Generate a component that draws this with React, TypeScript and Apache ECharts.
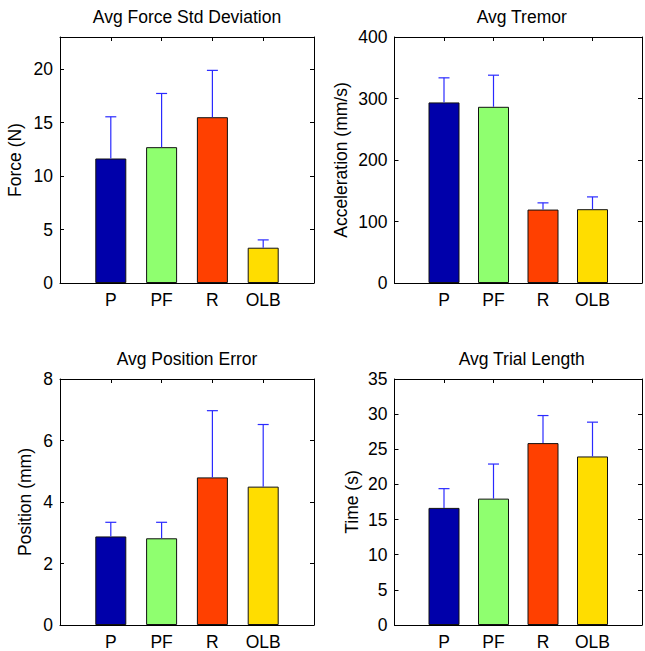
import React, { useEffect, useRef } from 'react';
import * as echarts from 'echarts';

const categories = ['P', 'PF', 'R', 'OLB'];
const barColors = ['#0000AA', '#8FFF6F', '#FF4000', '#FFDD00'];

const titles = ['Avg Force Std Deviation', 'Avg Tremor', 'Avg Position Error', 'Avg Trial Length'];
const yNames = ['Force (N)', 'Acceleration (mm/s)', 'Position (mm)', 'Time (s)'];

const forceMeans = [11.64, 12.7, 15.5, 3.3];
const forceErrs = [3.9, 5.02, 4.38, 0.73];
const tremorMeans = [293.6, 286.5, 119.4, 120];
const tremorErrs = [40, 51.4, 10.9, 20];
const positionMeans = [2.88, 2.82, 4.8, 4.5];
const positionErrs = [0.46, 0.52, 2.17, 2.02];
const timeMeans = [16.66, 17.98, 25.88, 23.98];
const timeErrs = [2.74, 4.92, 3.92, 4.88];

const yMins = [0, 0, 0, 0];
const yMaxs = [23, 400, 8, 35];
const yIntervals = [5, 100, 2, 5];

const FONT = "'Liberation Sans', Arial, Helvetica, sans-serif";
const FS = 17.5;

export default function App() {
  const ref = useRef<HTMLDivElement>(null);
  useEffect(() => {
    if (!ref.current) return;
    const chart = echarts.init(ref.current, undefined, { renderer: 'svg' });
    const means = [forceMeans, tremorMeans, positionMeans, timeMeans];
    const errs = [forceErrs, tremorErrs, positionErrs, timeErrs];
    const grids = [
      { left: 60, top: 37, width: 254, height: 246 },
      { left: 394.5, top: 37, width: 254.5, height: 246 },
      { left: 60, top: 379, width: 254, height: 247 },
      { left: 394.5, top: 379, width: 254.5, height: 247 },
    ];
    const nameGaps = [36, 45, 26, 34];
    const axisLineStyle = { color: '#000', width: 1 };
    const xAxis: any[] = [];
    const yAxis: any[] = [];
    const series: any[] = [];
    const graphic: any[] = [];
    grids.forEach((g, i) => {
      xAxis.push({
        type: 'value', gridIndex: i, min: 0, max: 5, interval: 1, position: 'bottom',
        axisLine: { show: true, onZero: false, lineStyle: axisLineStyle },
        axisTick: { show: true, inside: true, length: 4, lineStyle: axisLineStyle },
        splitLine: { show: false },
        axisLabel: {
          color: '#000', fontSize: FS, fontFamily: FONT, margin: 8,
          formatter: (v: number) => categories[v - 1] || '',
        },
      });
      yAxis.push({
        type: 'value', gridIndex: i, min: yMins[i], max: yMaxs[i], interval: yIntervals[i], position: 'left',
        name: yNames[i], nameLocation: 'middle', nameGap: nameGaps[i], nameRotate: 90,
        nameTextStyle: { color: '#000', fontSize: FS, fontFamily: FONT },
        axisLine: { show: true, onZero: false, lineStyle: axisLineStyle },
        axisTick: { show: true, inside: true, length: 4, lineStyle: axisLineStyle },
        splitLine: { show: false },
        axisLabel: {
          color: '#000', fontSize: FS, fontFamily: FONT, margin: 7,
          showMaxLabel: yMaxs[i] % yIntervals[i] === 0,
        },
      });
      graphic.push({
        type: 'text',
        x: g.left + g.width / 2,
        y: g.top - 20,
        style: {
          text: titles[i], fill: '#000', font: `${FS}px ${FONT}`,
          align: 'center', verticalAlign: 'middle',
        },
      });
    });
    grids.forEach((g, i) => {
      xAxis.push({
        type: 'value', gridIndex: i, min: 0, max: 5, interval: 1, position: 'top',
        axisLine: { show: true, onZero: false, lineStyle: axisLineStyle },
        axisTick: { show: true, inside: true, length: 4, lineStyle: axisLineStyle },
        splitLine: { show: false },
        axisLabel: { show: false },
      });
      yAxis.push({
        type: 'value', gridIndex: i, min: yMins[i], max: yMaxs[i], interval: yIntervals[i], position: 'right',
        axisLine: { show: true, onZero: false, lineStyle: axisLineStyle },
        axisTick: { show: true, inside: true, length: 4, lineStyle: axisLineStyle },
        splitLine: { show: false },
        axisLabel: { show: false },
      });
    });
    grids.forEach((g, i) => {
      series.push({
        type: 'bar', xAxisIndex: i, yAxisIndex: i, barWidth: 31, z: 2,
        data: means[i].map((v, k) => ({
          value: [k + 1, v],
          itemStyle: { color: barColors[k], borderColor: '#111', borderWidth: 1 },
        })),
      });
      series.push({
        type: 'custom', xAxisIndex: i, yAxisIndex: i, z: 3,
        data: means[i].map((v, k) => [k + 1, v, v + errs[i][k]]),
        renderItem: (params: any, api: any) => {
          const x = api.value(0);
          const p0 = api.coord([x, api.value(1)]);
          const p1 = api.coord([x, api.value(2)]);
          const style = { stroke: '#2a2aff', lineWidth: 1.2 };
          return {
            type: 'group',
            children: [
              { type: 'line', shape: { x1: p0[0], y1: p0[1], x2: p1[0], y2: p1[1] }, style },
              { type: 'line', shape: { x1: p1[0] - 5.5, y1: p1[1], x2: p1[0] + 5.5, y2: p1[1] }, style },
            ],
          };
        },
      });
    });
    chart.setOption({
      animation: false,
      backgroundColor: '#fff',
      grid: grids.map((g) => ({ ...g, containLabel: false })),
      xAxis,
      yAxis,
      series,
      graphic,
    });
    return () => chart.dispose();
  }, []);
  return (
    <div
      ref={ref}
      style={{ position: 'absolute', left: 0, top: 0, width: 645, height: 651, background: '#fff' }}
    />
  );
}
